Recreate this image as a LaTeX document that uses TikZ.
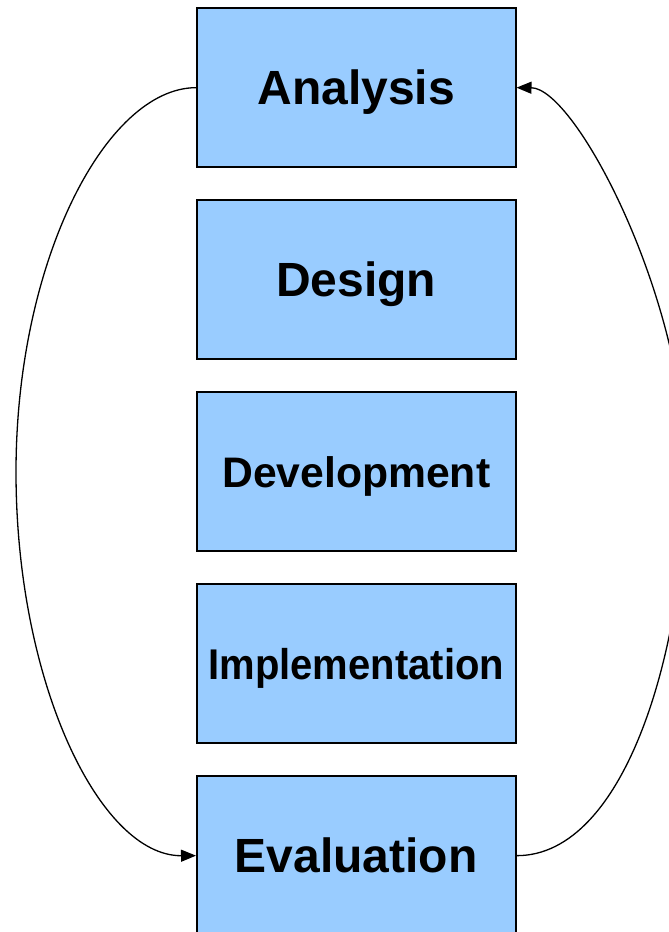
\documentclass[tikz,border=0pt]{standalone}
\usepackage{fontspec}
\setmainfont{Liberation Sans}
\usetikzlibrary{arrows.meta}
\definecolor{boxblue}{HTML}{99CCFF}
\begin{document}
\begin{tikzpicture}[x=1pt,y=-1pt,
  stagebox/.style={draw=black, line width=2pt, fill=boxblue, minimum width=318.5pt, minimum height=158.7pt, inner sep=0pt, font=\bfseries, text depth=0pt},
  bigtext/.style={text height=34.4pt},
  midtext/.style={text height=30.8pt},
  loopline/.style={line width=1.3pt, -{Triangle[length=15pt,width=12pt]}}]
\useasboundingbox (0,0) rectangle (669,932);
\node[stagebox,bigtext] (A) at (356.25,87.65) {\fontsize{48}{56}\selectfont Analysis};
\node[stagebox,bigtext] (D) at (356.25,279.65) {\fontsize{48}{56}\selectfont Design};
\node[stagebox,midtext] (V) at (356.25,471.65) {\fontsize{42.7}{50}\selectfont Development};
\node[stagebox,midtext] (I) at (356.25,663.65) {\scalebox{0.93}[1]{\fontsize{43}{50}\selectfont Implementation}};
\node[stagebox,bigtext] (E) at (356.25,855.65) {\fontsize{48}{56}\selectfont Evaluation};
\coordinate (L) at (16,472);
\coordinate (R) at (686,472);
\draw[loopline] (A.west) .. controls (106,88) and (16,260.8) .. (L)
  .. controls (16,683.2) and (100,856) .. (E.west);
\draw[loopline] (E.east) .. controls (626.5,856) and (686,644.8) .. (R)
  .. controls (686,299) and (575.5,88) .. (A.east);
\end{tikzpicture}
\end{document}
